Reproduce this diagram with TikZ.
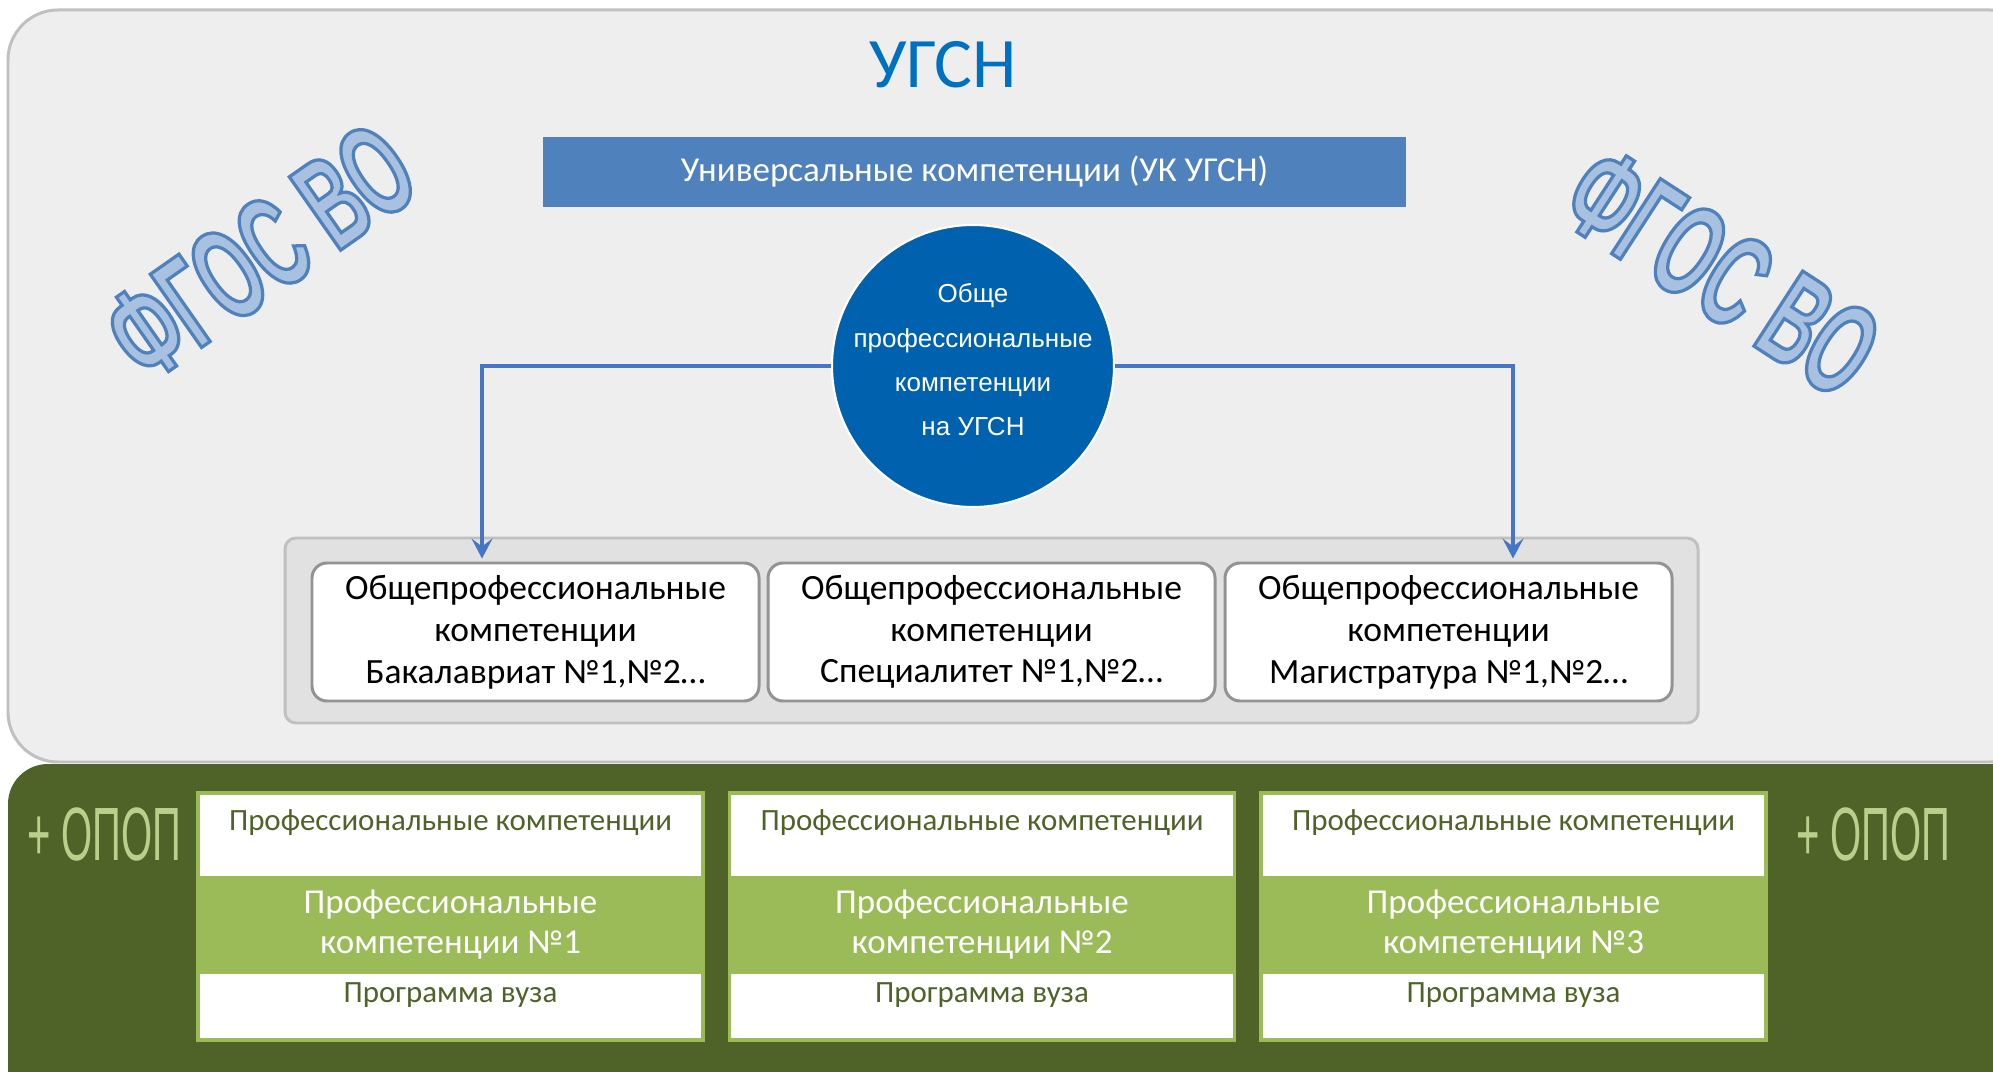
\documentclass[tikz,border=0pt]{standalone}
\usepackage{fontspec}
\setmainfont{Carlito}
\newfontfamily\arialfont{Liberation Sans}
\newfontfamily\narrowfont[FakeStretch=0.53]{Liberation Sans}
\newfontfamily\fgosfont[FakeStretch=0.56,FakeBold=2.5]{Liberation Sans Bold}
\usetikzlibrary{arrows.meta,positioning}

\definecolor{panelgray}{HTML}{EEEEEE}
\definecolor{paneledge}{HTML}{C0C0C0}
\definecolor{traygray}{HTML}{E1E1E1}
\definecolor{boxedge}{HTML}{939393}
\definecolor{barblue}{HTML}{4F81BD}
\definecolor{opkblue}{HTML}{0061AF}
\definecolor{linkblue}{HTML}{4775C6}
\definecolor{titleblue}{HTML}{0070C0}
\definecolor{fgosfill}{HTML}{A9C1E0}
\definecolor{olivedark}{HTML}{4F6228}
\definecolor{olivelight}{HTML}{9BBB59}
\definecolor{opopgreen}{HTML}{B9CF8C}

% stroke colour of the emboldened ФГОС letters (outline)
\newcommand\fgosedge{\special{pdf:literal direct 0.31 0.506 0.741 RG}}

\tikzset{
  panel/.style={fill=panelgray, draw=paneledge, line width=0.85pt, rounded corners=0.5cm},
  tray/.style={fill=traygray, draw=paneledge, line width=0.85pt, rounded corners=0.11cm},
  opkbox/.style={draw=boxedge, line width=0.85pt, rounded corners=0.15cm, fill=white,
    minimum width=4.47cm, minimum height=1.38cm, inner sep=0pt, align=center,
    font=\fontsize{10.1}{11.9}\selectfont},
  link/.style={draw=linkblue, line width=1.1pt, -{Stealth[length=0.2cm, width=0.21cm, inset=0.08cm]}},
  pkwhite/.style={fill=white, minimum width=5.05cm, inner sep=0pt, outer sep=0pt},
  pkgreen/.style={fill=olivelight, minimum width=5.05cm, inner sep=0pt, outer sep=0pt, text=white, align=center,
    font=\fontsize{9.95}{11.4}\selectfont},
  pkframe/.style={draw=olivelight, line width=1.1pt},
  pktext/.style={text=olivedark, anchor=base, inner sep=0pt, font=\fontsize{8.8}{10}\selectfont},
  opop/.style={text=opopgreen, anchor=base, inner sep=0pt, font=\narrowfont\fontsize{21.5}{24}\selectfont},
  fgos/.style={inner sep=0pt, text=fgosfill, font=\fgosfont\fontsize{37}{40}\selectfont}
}

\begin{document}
\begin{tikzpicture}
  \useasboundingbox (0,0) rectangle (19.93,10.71);
  \clip (0,0) rectangle (19.93,10.71);
  \fill[white] (0,0) rectangle (19.93,10.71);
  \draw[panel] (0.08,10.61) rectangle (20.4,3.09); % FGOS panel
  \fill[olivedark, rounded corners=0.4cm] (0.08,3.07) rectangle (20.4,-0.5); % OPOP panel

  \node[anchor=base, inner sep=0pt, text=titleblue, font=\fontsize{20.2}{24}\selectfont] (ugsn) at (9.43,9.83) {УГСН};
  \node[fill=barblue, text=white, minimum width=8.63cm, minimum height=0.70cm, inner sep=0pt,
    font=\fontsize{9.95}{11}\selectfont] (uk) at (9.745,8.99) {Универсальные компетенции (УК УГСН)};

  \node[fgos, rotate=35] (fgosL) at (2.60,8.19) {\fgosedge ФГОС ВО}; % left stamp
  \node[fgos, rotate=-33] (fgosR) at (17.22,7.99) {\fgosedge ФГОС ВО}; % right stamp

  \node[circle, fill=opkblue, draw=white, line width=0.6pt, minimum size=2.82cm, inner sep=0pt] (opk) at (9.73,7.05) {};
  \node[text=white, align=center, inner sep=0pt, font=\arialfont\fontsize{7.4}{12.6}\selectfont] (opktext) at ([yshift=0.06cm]opk.center)
    {Обще\\профессиональные\\компетенции\\на УГСН};

  \draw[tray] (2.85,5.33) rectangle (16.98,3.48); % tray of the three OPK boxes
  \node[opkbox] (obak) at (5.355,4.39) {Общепрофессиональные\\компетенции\\Бакалавриат №1,№2…};
  \node[opkbox] (ospec) at (9.915,4.39) {Общепрофессиональные\\компетенции\\Специалитет №1,№2…};
  \node[opkbox] (omag) at (14.485,4.39) {Общепрофессиональные\\компетенции\\Магистратура №1,№2…};

  \draw[link] (opk.west) -| ([xshift=-0.535cm, yshift=0.03cm]obak.north);
  \draw[link] (opk.east) -| ([xshift=0.645cm, yshift=0.03cm]omag.north);

  % column 1
  \node[pkwhite, minimum height=0.83cm] (pktop1) at (4.505,2.365) {};
  \node[pkgreen, minimum height=0.98cm, below=0pt of pktop1] (pkmid1) {Профессиональные\\компетенции №1};
  \node[pkwhite, minimum height=0.66cm, below=0pt of pkmid1] (pkbot1) {};
  \draw[pkframe] (pktop1.north west) rectangle (pkbot1.south east);
  \node[pktext] (pklab1) at (4.505,2.41) {Профессиональные компетенции};
  \node[pktext] (pkvuz1) at (4.505,0.69) {Программа вуза};
  % column 2
  \node[pkwhite, minimum height=0.83cm] (pktop2) at (9.82,2.365) {};
  \node[pkgreen, minimum height=0.98cm, below=0pt of pktop2] (pkmid2) {Профессиональные\\компетенции №2};
  \node[pkwhite, minimum height=0.66cm, below=0pt of pkmid2] (pkbot2) {};
  \draw[pkframe] (pktop2.north west) rectangle (pkbot2.south east);
  \node[pktext] (pklab2) at (9.82,2.41) {Профессиональные компетенции};
  \node[pktext] (pkvuz2) at (9.82,0.69) {Программа вуза};
  % column 3
  \node[pkwhite, minimum height=0.83cm] (pktop3) at (15.135,2.365) {};
  \node[pkgreen, minimum height=0.98cm, below=0pt of pktop3] (pkmid3) {Профессиональные\\компетенции №3};
  \node[pkwhite, minimum height=0.66cm, below=0pt of pkmid3] (pkbot3) {};
  \draw[pkframe] (pktop3.north west) rectangle (pkbot3.south east);
  \node[pktext] (pklab3) at (15.135,2.41) {Профессиональные компетенции};
  \node[pktext] (pkvuz3) at (15.135,0.69) {Программа вуза};

  \node[opop] (opopL) at (1.045,2.11) {+ ОПОП};
  \node[opop] (opopR) at (18.735,2.11) {+ ОПОП};
\end{tikzpicture}
\end{document}
